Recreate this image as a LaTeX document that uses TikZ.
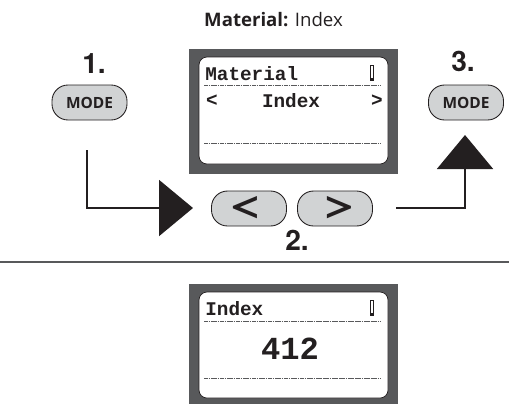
\documentclass[tikz,border=0pt]{standalone}
\usepackage{fontspec}
\usepackage{xcolor,graphicx}
\usepackage{tikz}
\usetikzlibrary{%
	arrows.meta%
}
\setmainfont{Open Sans}
\newfontfamily\lcdfont{Liberation Mono}
\newfontfamily\stepfont{TeX Gyre Heros}
\definecolor{Ink}{HTML}{231F20}
\definecolor{Bezel}{HTML}{58595B}
\definecolor{Key}{HTML}{D1D3D4}
\tikzset{
	bezel/.style={fill=Bezel,minimum width=209*0.02cm,inner sep=0},
	lcd/.style={draw=Ink,line width=0.4pt,fill=white,rounded corners=1.6mm,minimum width=189*0.02cm,inner sep=0},
	modekey/.style={draw=Ink,line width=0.5pt,fill=Key,rounded corners=3.2mm,minimum width=75*0.02cm,minimum height=35*0.02cm,inner sep=0,text=Ink,font=\fontsize{8.8}{10}\selectfont\bfseries},
	keysign/.style={text=Ink,inner sep=0,font=\fontsize{26}{26}\stepfont\bfseries},
	stepnum/.style={text=Ink,font=\fontsize{16}{18}\stepfont\bfseries},
	lcdtext/.style={text=Ink,inner sep=0,font=\fontsize{11}{13}\lcdfont\bfseries},
	cell/.style={draw=Ink,line width=0.5pt,fill=white,minimum width=3.5*0.02cm,minimum height=15*0.02cm,inner sep=0},
	rulerline/.style={Bezel,line width=0.4pt,dash pattern=on 1pt off 0.3pt},
	flow/.style={Ink,line width=1.1pt,-{Triangle[length=0.68cm,width=1.12cm]}}
}

\begin{document}
\begin{tikzpicture}[x=0.02cm,y=-0.02cm]
\useasboundingbox (0,0) rectangle (509,403);

\node (title) at (273.5,20) [text=Ink,font=\fontsize{10.6}{12}\selectfont] {\textbf{Material:} Index};

% upper screen
\node (upperbezel) at (293.5,111.5) [bezel,minimum height=125*0.02cm] {};
\node (upperlcd) at (293.5,110.5) [lcd,minimum height=107*0.02cm] {};
\node (uppername) at (205,74) [lcdtext,anchor=west] {Material};
\node (uppercell) at (372,73) [cell] {};
\fill [Ink] (370.2,78) rectangle (373.8,80.5);
\draw [rulerline] (204,85) -- (381,85);
\node (leftsign) at (212,101) [lcdtext] {<};
\node (uppervalue) at (291,101) [lcdtext] {Index};
\node (rightsign) at (377,101) [lcdtext] {>};
\draw [rulerline] (204,143) -- (381,143);

% keys
\node (modeone) at (89.5,102.5) [modekey] {MODE};
\node (numone) at (94,64) [stepnum] {1.};
\node (modetwo) at (466,102.5) [modekey] {MODE};
\node (numthree) at (463,61) [stepnum] {3.};
\node (keyleft) at (249,208.5) [modekey] {};
\node (keyright) at (335,208.5) [modekey] {};
\node (signleft) at (246,208) [keysign] {\scalebox{1.4}[0.69]{<}};
\node (signright) at (340,208) [keysign] {\scalebox{1.4}[0.69]{>}};
\node (numtwo) at (297,240) [stepnum] {2.};

% arrows
\coordinate (startone) at (87,150);
\coordinate (tipone) at (193,208);
\coordinate (starttwo) at (396,208);
\coordinate (tiptwo) at (465,135);
\draw [flow] (startone) |- (tipone);
\draw [flow] (starttwo) -| (tiptwo);

\draw [Bezel,line width=0.6pt] (0,262) -- (509,262);

% lower screen
\node (lowerbezel) at (293.5,344) [bezel,minimum height=120*0.02cm] {};
\node (lowerlcd) at (293.5,345) [lcd,minimum height=106*0.02cm] {};
\node (lowername) at (205,309) [lcdtext,anchor=west] {Index};
\node (lowercell) at (372,308) [cell] {};
\fill [Ink] (370.2,313) rectangle (373.8,315.5);
\draw [rulerline] (204,321) -- (381,321);
\node (lowervalue) at (290,349) [lcdtext,font=\fontsize{18.3}{20}\lcdfont\bfseries] {412};
\draw [rulerline] (204,378) -- (381,378);
\end{tikzpicture}
\end{document}
